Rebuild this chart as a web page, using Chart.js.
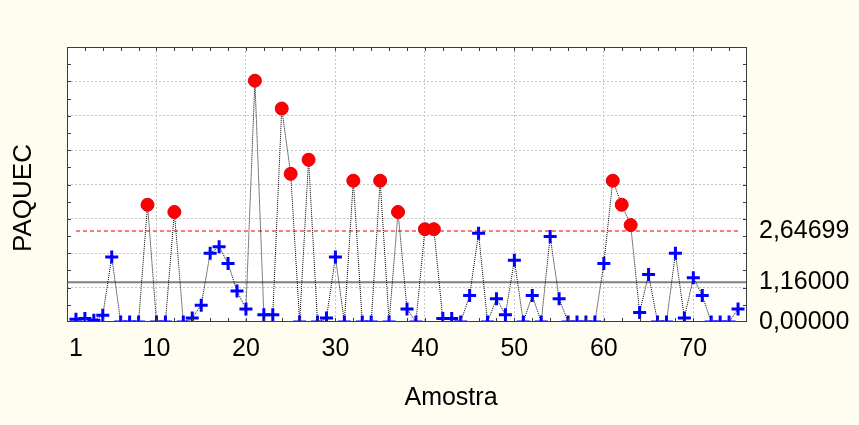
<!DOCTYPE html>
<html>
<head>
<meta charset="utf-8">
<script src="https://cdn.jsdelivr.net/npm/chart.js@4/dist/chart.umd.min.js"></script>
<style>
  html, body { margin: 0; padding: 0; background: #fffdf0; }
</style>
</head>
<body>
<canvas id="paquec" width="859" height="425"></canvas>
<script>
// amostras 1..75 e valores de PAQUEC
const samples = [
  1, 2, 3, 4, 5, 6, 7, 8, 9, 10, 11, 12, 13, 14, 15, 16, 17, 18, 19, 20,
  21, 22, 23, 24, 25, 26, 27, 28, 29, 30, 31, 32, 33, 34, 35, 36, 37, 38, 39, 40,
  41, 42, 43, 44, 45, 46, 47, 48, 49, 50, 51, 52, 53, 54, 55, 56, 57, 58, 59, 60,
  61, 62, 63, 64, 65, 66, 67, 68, 69, 70, 71, 72, 73, 74, 75
];
const paquec = [
  0.08, 0.10, 0.05, 0.20, 1.89, 0, 0, 0, 3.41, 0,
  0, 3.20, 0, 0.12, 0.49, 2.00, 2.19, 1.70, 0.90, 0.38,
  7.02, 0.21, 0.21, 6.21, 4.31, 0, 4.72, 0, 0.12, 1.89,
  0, 4.11, 0, 0, 4.11, 0, 3.20, 0.38, 0, 2.70,
  2.70, 0.10, 0.10, 0, 0.77, 2.58, 0, 0.68, 0.21, 1.80,
  0, 0.77, 0, 2.49, 0.68, 0, 0, 0, 0, 1.70,
  4.11, 3.41, 2.82, 0.28, 1.38, 0, 0, 2.00, 0.12, 1.29,
  0.77, 0, 0, 0, 0.38
];
const ucl = 2.64699;        // limite superior
const centerLine = 1.16;    // linha central
const xTicks = [1, 10, 20, 30, 40, 50, 60, 70];
const limitTicks = [0, centerLine, ucl];
const xTitle = 'Amostra';
const yTitle = 'PAQUEC';

const FONT = '"Liberation Sans", Arial, sans-serif';
const isOut = (c) => c.raw !== undefined && c.raw.y > ucl;

// fundo, moldura e marcas internas
const frame = {
  id: 'frame',
  beforeDraw(chart) {
    const { ctx, chartArea: a, width, height } = chart;
    ctx.save();
    ctx.fillStyle = '#fffdf0';
    ctx.fillRect(0, 0, width, height);
    ctx.fillStyle = '#ffffff';
    ctx.fillRect(a.left, a.top, a.width, a.height);
    ctx.restore();
  },
  afterDatasetsDraw(chart) {
    const { ctx, chartArea: a, scales: { x, y } } = chart;
    ctx.save();
    ctx.strokeStyle = '#3c3c3c';
    ctx.lineWidth = 1;
    ctx.strokeRect(a.left + 0.5, a.top + 0.5, a.width - 1, a.height - 1);
    ctx.beginPath();
    for (let v = 2; v < x.max; v += 2) {
      const px = Math.round(x.getPixelForValue(v)) + 0.5;
      ctx.moveTo(px, a.top); ctx.lineTo(px, a.top + 4);
      ctx.moveTo(px, a.bottom); ctx.lineTo(px, a.bottom - 4);
    }
    for (let v = 0.5; v < y.max; v += 0.5) {
      const py = Math.round(y.getPixelForValue(v)) + 0.5;
      ctx.moveTo(a.left, py); ctx.lineTo(a.left + 4, py);
      ctx.moveTo(a.right, py); ctx.lineTo(a.right - 4, py);
    }
    ctx.stroke();
    ctx.restore();
  },
  afterDraw(chart) {
    const ctx = chart.ctx;
    ctx.save();
    ctx.fillStyle = '#000';
    ctx.textAlign = 'center';
    ctx.textBaseline = 'middle';
    ctx.font = '25px ' + FONT;
    ctx.fillText(xTitle, 451, 398);
    ctx.translate(24, 198);
    ctx.rotate(-Math.PI / 2);
    ctx.font = '26px ' + FONT;
    ctx.fillText(yTitle, 0, 0);
    ctx.restore();
  }
};

new Chart(document.getElementById('paquec'), {
  type: 'line',
  data: {
    datasets: [
      {
        label: yTitle,
        data: samples.map((s, i) => ({ x: s, y: paquec[i] })),
        borderColor: '#000000',
        borderWidth: 1,
        borderDash: [1, 1],
        tension: 0,
        clip: 0,
        pointStyle: (c) => (isOut(c) ? 'circle' : 'cross'),
        pointRadius: 6.5,
        pointBorderWidth: (c) => (isOut(c) ? 1 : 3),
        pointBackgroundColor: (c) => (isOut(c) ? '#ff0000' : '#0000ff'),
        pointBorderColor: (c) => (isOut(c) ? '#e00010' : '#0000ff'),
      },
      {
        label: 'LC',
        data: [{ x: 0, y: centerLine }, { x: 76, y: centerLine }],
        borderColor: '#808080',
        borderWidth: 2,
        pointRadius: 0,
      },
      {
        label: 'LSC',
        data: [{ x: 1, y: ucl }, { x: 75, y: ucl }],
        borderColor: '#f45050',
        borderWidth: 1.5,
        borderDash: [4, 3],
        pointRadius: 0,
      },
    ],
  },
  options: {
    responsive: false,
    devicePixelRatio: 1,
    animation: false,
    layout: { padding: { top: 47, left: 0, right: 0, bottom: 0 } },
    plugins: { legend: { display: false }, tooltip: { enabled: false } },
    scales: {
      x: {
        type: 'linear',
        min: 0,
        max: 76,
        afterBuildTicks: (s) => { s.ticks = xTicks.map((v) => ({ value: v })); },
        afterFit: (s) => { s.height = 103; },
        ticks: {
          font: { family: FONT, size: 25 },
          color: '#000',
          padding: 12,
          autoSkip: false,
          maxRotation: 0,
          callback: (v) => String(v),
        },
        grid: {
          color: (c) => (c.tick && c.tick.value % 10 === 0 ? '#c4c4c4' : 'rgba(0,0,0,0)'),
          drawTicks: false,
        },
        border: { display: false, dash: [2, 2] },
      },
      y: {
        min: 0,
        max: 8,
        ticks: { display: false, stepSize: 1 },
        afterFit: (s) => { s.width = 67; },
        grid: {
          color: (c) => (c.tick && c.tick.value > 0 && c.tick.value < 8 ? '#c4c4c4' : 'rgba(0,0,0,0)'),
          drawTicks: false,
        },
        border: { display: false, dash: [2, 2] },
      },
      y2: {
        position: 'right',
        min: 0,
        max: 8,
        afterBuildTicks: (s) => { s.ticks = limitTicks.map((v) => ({ value: v })); },
        afterFit: (s) => { s.width = 112; },
        ticks: {
          font: { family: FONT, size: 25 },
          color: '#000',
          padding: 12,
          autoSkip: false,
          callback: (v) => v.toFixed(5).replace('.', ','),
        },
        grid: { display: false, drawTicks: false },
        border: { display: false },
      },
    },
  },
  plugins: [frame],
});
</script>
</body>
</html>
